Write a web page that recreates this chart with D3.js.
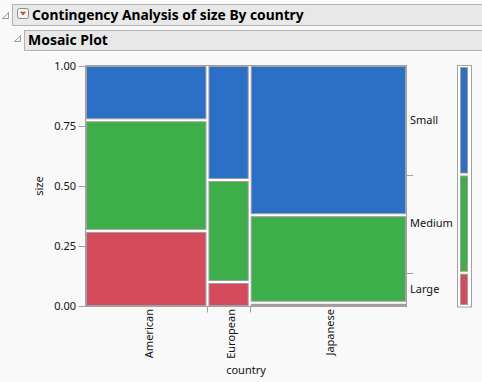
<!DOCTYPE html>
<html><head><meta charset="utf-8">
<script src="https://cdn.jsdelivr.net/npm/d3@7"></script>
<style>
html,body{margin:0;padding:0;background:#f9f9f9;}
svg{display:block;}
text{font-family:"Noto Sans",sans-serif;}
</style></head>
<body>
<script>
// ---- data ----
const countries = ["American", "European", "Japanese"];
const sizes = ["Large", "Medium", "Small"];
const largeCounts  = [36, 4, 2];
const mediumCounts = [53, 17, 54];
const smallCounts  = [26, 19, 92];
const yTicks = [0, 0.25, 0.5, 0.75, 1];
const sizeColors = ["#d44b5b", "#3dae49", "#2b70c6"];
const title = "Contingency Analysis of size By country";
const subTitle = "Mosaic Plot";

const W = 482, H = 382;
const svg = d3.select("body").append("svg").attr("width", W).attr("height", H);
const grey = "#a0a0a0";

// ---- headers ----
function tri(x, y) {
  svg.append("path").attr("d", `M${x},${y+6}L${x+6},${y}L${x+6},${y+6}Z`)
    .attr("fill", "none").attr("stroke", "#909090").attr("stroke-width", 0.9);
}
svg.append("rect").attr("x", 12.5).attr("y", 4.5).attr("width", 470).attr("height", 21)
  .attr("fill", "#e8e8e8").attr("stroke", "#b4b4b4");
tri(2.5, 12.5);
// dropdown icon
const dd = svg.append("g");
dd.append("rect").attr("x", 17.5).attr("y", 8.5).attr("width", 11).attr("height", 10).attr("rx", 2)
  .attr("fill", "#f4f4f4").attr("stroke", "#8a8a8a");
dd.append("path").attr("d", "M19.8,11.8L26.2,11.8L23,15.6Z").attr("fill", "#c0552a");
function fitText(sel, target) {
  const len = sel.node().getComputedTextLength();
  const fs = parseFloat(sel.attr("font-size"));
  sel.attr("font-size", fs * target / len);
}
const t1 = svg.append("text").attr("x", 32).attr("y", 20).attr("font-weight", "bold")
  .attr("font-size", 14).attr("fill", "#000").text(title);
fitText(t1, 272);

svg.append("rect").attr("x", 24.5).attr("y", 30.5).attr("width", 458).attr("height", 20)
  .attr("fill", "#e8e8e8").attr("stroke", "#b4b4b4");
tri(14.5, 35.5);
const t2 = svg.append("text").attr("x", 28).attr("y", 45).attr("font-weight", "bold")
  .attr("font-size", 14).attr("fill", "#000").text(subTitle);
fitText(t2, 80);

// ---- mosaic ----
const x0 = 86, x1 = 406, yTop = 66, yBot = 306;
const colTotals = countries.map((c, i) => largeCounts[i] + mediumCounts[i] + smallCounts[i]);
const grand = d3.sum(colTotals);
const x = d3.scaleLinear().domain([0, 1]).range([x0, x1]);
const y = d3.scaleLinear().domain([0, 1]).range([yBot, yTop]);

svg.append("rect").attr("x", x0 - 0.5).attr("y", yTop - 0.5).attr("width", x1 - x0 + 1).attr("height", yBot - yTop + 1)
  .attr("fill", "#fff").attr("stroke", grey);

const series = [largeCounts, mediumCounts, smallCounts];
const cells = [];
let cx = 0;
const bounds = [0];
countries.forEach((c, i) => {
  const w = colTotals[i] / grand;
  let cy = 0;
  series.forEach((s, k) => {
    const h = s[i] / colTotals[i];
    cells.push({c0: cx, c1: cx + w, p0: cy, p1: cy + h, k});
    cy += h;
  });
  cx += w;
  bounds.push(cx);
});
function inset(v, atEdge) { return atEdge ? 0.5 : 1.5; }
svg.append("g").selectAll("rect").data(cells).join("rect")
  .attr("x", d => x(d.c0) + inset(0, d.c0 < 1e-9))
  .attr("width", d => (x(d.c1) - inset(0, d.c1 > 1 - 1e-9)) - (x(d.c0) + inset(0, d.c0 < 1e-9)))
  .attr("y", d => y(d.p1) + inset(0, d.p1 > 1 - 1e-9))
  .attr("height", d => Math.max(0.5, (y(d.p0) - inset(0, d.p0 < 1e-9)) - (y(d.p1) + inset(0, d.p1 > 1 - 1e-9))))
  .attr("fill", d => sizeColors[d.k]).attr("stroke", grey).attr("stroke-width", 1);

// y axis
const yAxis = d3.axisLeft(y).tickValues(yTicks).tickFormat(d3.format(".2f")).tickSize(7).tickPadding(2.5);
const ga = svg.append("g").attr("transform", `translate(${x0 - 0.5},0)`).call(yAxis);
ga.select(".domain").remove();
ga.selectAll("line").attr("stroke", grey);
ga.selectAll("text").attr("font-size", 11).attr("fill", "#111").style("font-family", "Noto Sans");
svg.append("text").attr("transform", `translate(43,186) rotate(-90)`).attr("text-anchor", "middle")
  .attr("font-size", 11).attr("fill", "#111").text("size");

// x axis: ticks at category boundaries, labels at centres
svg.append("g").selectAll("line").data(bounds.slice(1, -1)).join("line")
  .attr("x1", d => Math.round(x(d)) + 0.5).attr("x2", d => Math.round(x(d)) + 0.5)
  .attr("y1", yBot).attr("y2", yBot + 6.5).attr("stroke", grey);
svg.append("g").selectAll("text").data(countries).join("text")
  .attr("transform", (d, i) => `translate(${(x(bounds[i]) + x(bounds[i + 1])) / 2 + 2.5},309) rotate(-90)`)
  .attr("dy", "0.35em").attr("text-anchor", "end").attr("font-size", 11).attr("fill", "#111").text(d => d);
svg.append("text").attr("x", (x0 + x1) / 2).attr("y", 374).attr("text-anchor", "middle")
  .attr("font-size", 11).attr("fill", "#111").text("country");

// right marginal axis
const sizeTotals = series.map(s => d3.sum(s));
const mb = [0];
sizeTotals.forEach(t => mb.push(mb[mb.length - 1] + t / grand));
svg.append("g").selectAll("line").data(mb.slice(1, -1)).join("line")
  .attr("x1", x1).attr("x2", x1 + 7)
  .attr("y1", d => Math.round(y(d)) + 0.5).attr("y2", d => Math.round(y(d)) + 0.5).attr("stroke", grey);
svg.append("g").selectAll("text").data(sizes).join("text")
  .attr("x", 410).attr("y", (d, i) => (y(mb[i]) + y(mb[i + 1])) / 2).attr("dy", "0.35em")
  .attr("font-size", 11).attr("fill", "#111").text(d => d);

// marginal bar
const bx0 = 457, bx1 = 472;
svg.append("rect").attr("x", bx0 + 0.5).attr("y", yTop - 0.5).attr("width", bx1 - bx0 - 1).attr("height", yBot - yTop + 1.5)
  .attr("fill", "#fff").attr("stroke", grey);
svg.append("g").selectAll("rect").data(sizes).join("rect")
  .attr("x", 460.5).attr("width", 7)
  .attr("y", (d, i) => y(mb[i + 1]) + (i === 2 ? 1.5 : 1.5))
  .attr("height", (d, i) => (y(mb[i]) - 1.5) - (y(mb[i + 1]) + 1.5))
  .attr("fill", (d, i) => sizeColors[i]).attr("stroke", grey);
</script>
</body></html>
